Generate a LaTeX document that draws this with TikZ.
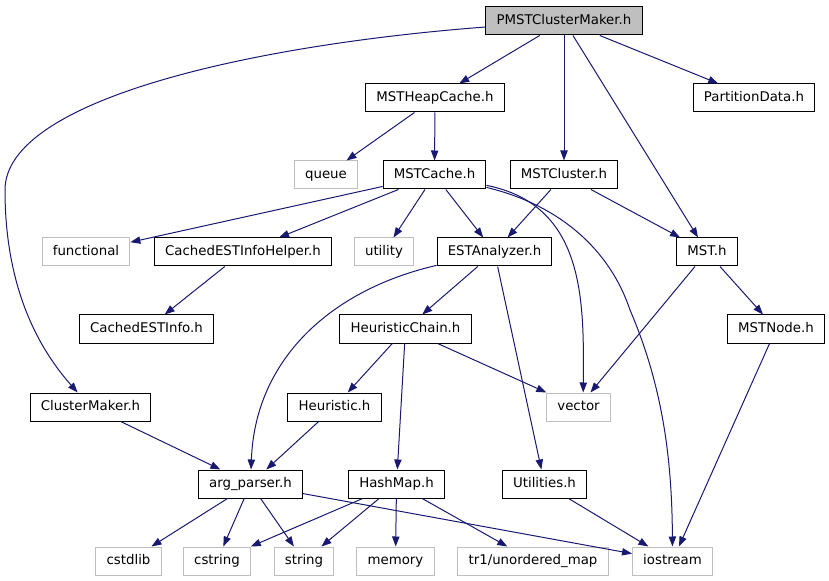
\documentclass[tikz,border=0pt]{standalone}
\usepackage{fontspec}
\setmainfont{DejaVu Sans}
\usetikzlibrary{arrows.meta}
\definecolor{edgeblue}{RGB}{25,25,112}
\definecolor{sysgray}{RGB}{191,191,191}

\begin{document}
\begin{tikzpicture}[->,>={Triangle[length=7.5pt,width=5.5pt]},x=0.75pt,y=-0.75pt,
                    font=\fontsize{10}{12}\selectfont]
  \tikzstyle{hdr}=[draw=black,line width=0.75pt,minimum height=21pt,inner xsep=8pt,
                   text height=7.5pt,text depth=2pt,fill=white]
  \tikzstyle{sys}=[hdr,draw=sysgray]
  \tikzstyle{focus}=[hdr,fill=sysgray]
  \tikzstyle{link}=[draw=edgeblue,line width=0.75pt]
  \tikzstyle{every edge}=[link]
  \useasboundingbox (0,0) rectangle (829,581);

  \node[focus] (PMST)  at (564,21)    {PMSTClusterMaker.h};
  \node[hdr]   (MHC)   at (435,98)    {MSTHeapCache.h};
  \node[hdr]   (PD)    at (754,98)    {PartitionData.h};
  \node[sys]   (queue) at (326,175)   {queue};
  \node[hdr]   (MC)    at (434.5,175) {MSTCache.h};
  \node[hdr]   (MCl)   at (564,175)   {MSTCluster.h};
  \node[sys]   (func)  at (86,252)    {functional};
  \node[hdr]   (CEIH)  at (243,252)   {CachedESTInfoHelper.h};
  \node[sys]   (util)  at (384,252)   {utility};
  \node[hdr]   (ESTA)  at (494.5,252) {ESTAnalyzer.h};
  \node[hdr]   (MST)   at (707,252)   {MST.h};
  \node[hdr]   (CEI)   at (146.5,329) {CachedESTInfo.h};
  \node[hdr]   (HC)    at (405.5,329) {HeuristicChain.h};
  \node[hdr]   (MSTN)  at (776,329)   {MSTNode.h};
  \node[hdr]   (CM)    at (90.5,407)  {ClusterMaker.h};
  \node[hdr]   (Heur)  at (334.5,407) {Heuristic.h};
  \node[sys]   (vec)   at (578.5,407) {vector};
  \node[hdr]   (argp)  at (250.5,484) {arg\_parser.h};
  \node[hdr]   (HM)    at (396.5,484) {HashMap.h};
  \node[hdr]   (Utils) at (544.5,484) {Utilities.h};
  \node[sys]   (cstdl) at (128.5,561) {cstdlib};
  \node[sys]   (cstr)  at (217,561)   {cstring};
  \node[sys]   (str)   at (304,561)   {string};
  \node[sys]   (mem)   at (395.5,561) {memory};
  \node[sys]   (umap)  at (533,561)   {tr1/unordered\_map};
  \node[sys]   (ios)   at (672.5,561) {iostream};

\path (PMST) edge (MHC)
             edge (MCl)
             edge (MST)
             edge (PD)
      (MHC)  edge (queue)
             edge (MC)
      (MC)   edge (func)
             edge (CEIH)
             edge (util)
             edge (ESTA)
      (MCl)  edge (ESTA)
             edge (MST)
      (CEIH) edge (CEI)
      (ESTA) edge (HC)
             edge (Utils)
      (MST)  edge (vec)
             edge (MSTN)
      (HC)   edge (Heur)
             edge (HM)
             edge (vec)
      (MSTN) edge (ios)
      (CM)   edge (argp)
      (Heur) edge (argp)
      (argp) edge (cstdl)
             edge (cstr)
             edge (str)
             edge (ios)
      (HM)   edge (cstr)
             edge (str)
             edge (mem)
             edge (umap)
      (Utils) edge (ios);

  % curved includes
  \draw[link] (PMST) .. controls (250,45) and (5,100) .. (5,190)
                     .. controls (5,290) and (40,350) .. (CM);
  \draw[link] (MC) .. controls (585,205) and (584,300) .. (vec.72);
  \draw[link] (MC) .. controls (560,205) and (610,250) .. (630,310)
                   .. controls (660,380) and (672,450) .. (ios);
  \draw[link] (ESTA) .. controls (330,290) and (255,360) .. (argp);
\end{tikzpicture}
\end{document}
